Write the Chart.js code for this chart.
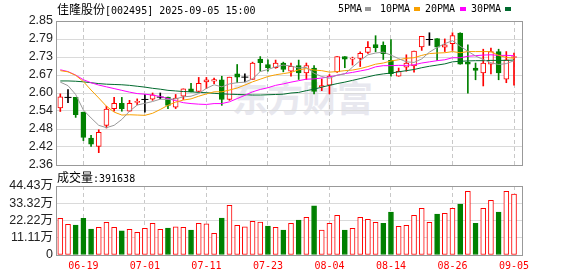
<!DOCTYPE html>
<html><head><meta charset="utf-8">
<script src="https://cdn.jsdelivr.net/npm/chart.js@4.4.1/dist/chart.umd.min.js"></script>
<style>
html,body{margin:0;padding:0;background:#fff;}
#wrap{position:relative;width:578px;height:276px;overflow:hidden;color:#000;}
#wrap canvas{position:absolute;left:0;}
#kc{top:0;} #vc{top:170px;}
.t{position:absolute;white-space:nowrap;line-height:14px;font-size:10px;font-family:"DejaVu Sans Mono",monospace;}
.cj{font-family:"Noto Sans CJK SC",sans-serif;font-size:12px;}
.sw{position:absolute;top:7px;width:6px;height:4px;}
#wm{position:absolute;left:232px;top:70px;font:bold 36px "Noto Sans CJK SC",sans-serif;color:#e8e8ef;letter-spacing:-1px;}
</style></head>
<body><div id="wrap">
<div id="wm">东方财富</div>
<canvas id="kc" width="578" height="180"></canvas>
<canvas id="vc" width="578" height="106"></canvas>
<div class="t" style="left:57px;top:2px"><span class="cj">佳隆股份</span>[002495] 2025-09-05 15:00</div>
<div class="t" style="left:338px;top:2px">5PMA</div><div class="sw" style="left:365px;background:#999"></div>
<div class="t" style="left:380px;top:2px">10PMA</div><div class="sw" style="left:414px;background:#f8a000"></div>
<div class="t" style="left:425px;top:2px">20PMA</div><div class="sw" style="left:460px;background:#ff00ff"></div>
<div class="t" style="left:471px;top:2px">30PMA</div><div class="sw" style="left:505px;background:#006a2e"></div>
<div class="t" style="left:57px;top:170px"><span class="cj">成交量</span>:391638</div>
</div>
<script>
/* ---- data ----------------------------------------------------------- */
const DATE_IDX    = [3, 11, 19, 27, 35, 43, 51, 59];
const DATE_LABELS = ["06-19","07-01","07-11","07-23","08-04","08-14","08-26","09-05"];
const PRICE_TICKS  = [2.36, 2.42125, 2.4825, 2.54375, 2.605, 2.66625, 2.7275, 2.78875, 2.85];
const PRICE_LABELS = ["2.36","2.42","2.48","2.54","2.60","2.67","2.73","2.79","2.85"];
const VOL_TICKS  = [0, 11.1075, 22.215, 33.3225, 44.43];
const VOL_LABELS = ["0","11.11万","22.22万","33.32万","44.43万"];

const OPEN  = [2.554,2.59,2.59,2.54,2.452,2.423,2.495,2.552,2.57,2.543,2.573,2.583,2.584,2.591,2.591,2.557,2.594,2.619,2.61,2.643,
               2.645,2.65,2.583,2.67,2.659,2.651,2.72,2.702,2.691,2.707,2.679,2.698,2.673,2.69,2.626,2.632,2.677,2.729,2.72,2.723,
               2.743,2.77,2.767,2.716,2.662,2.693,2.697,2.762,2.787,2.79,2.761,2.773,2.809,2.709,2.69,2.673,2.703,2.746,2.652,2.726];
const HIGH  = [2.602,2.617,2.59,2.54,2.461,2.48,2.56,2.59,2.59,2.58,2.585,2.60,2.605,2.605,2.591,2.60,2.619,2.638,2.658,2.658,
               2.656,2.662,2.659,2.702,2.67,2.71,2.729,2.718,2.717,2.71,2.707,2.717,2.707,2.698,2.653,2.668,2.729,2.729,2.727,2.745,
               2.78,2.80,2.779,2.787,2.69,2.735,2.748,2.798,2.81,2.79,2.789,2.81,2.81,2.769,2.707,2.754,2.758,2.754,2.746,2.741];
const LOW   = [2.542,2.572,2.522,2.443,2.423,2.402,2.486,2.543,2.543,2.542,2.565,2.54,2.58,2.585,2.552,2.552,2.583,2.609,2.609,2.62,
               2.637,2.563,2.58,2.64,2.643,2.651,2.679,2.679,2.689,2.677,2.662,2.651,2.651,2.602,2.613,2.602,2.675,2.691,2.70,2.695,
               2.74,2.745,2.719,2.662,2.662,2.679,2.676,2.75,2.767,2.716,2.746,2.75,2.703,2.604,2.65,2.629,2.67,2.65,2.64,2.632];
const CLOSE = [2.592,2.59,2.531,2.454,2.431,2.471,2.55,2.57,2.552,2.57,2.577,2.583,2.599,2.591,2.563,2.588,2.619,2.609,2.638,2.65,
               2.651,2.583,2.659,2.659,2.659,2.707,2.708,2.691,2.707,2.685,2.696,2.673,2.698,2.61,2.63,2.663,2.729,2.72,2.724,2.74,
               2.76,2.759,2.739,2.671,2.679,2.707,2.748,2.798,2.787,2.761,2.769,2.80,2.703,2.703,2.682,2.707,2.746,2.673,2.718,2.729];

const MA5  = [2.642,2.63,2.60,2.547,2.520,2.495,2.487,2.495,2.515,2.543,2.564,2.570,2.576,2.584,2.583,2.585,2.592,2.594,2.603,2.621,
              2.633,2.626,2.636,2.640,2.642,2.653,2.678,2.685,2.694,2.700,2.697,2.690,2.692,2.672,2.661,2.655,2.666,2.670,2.693,2.715,
              2.735,2.741,2.744,2.734,2.722,2.711,2.709,2.721,2.744,2.760,2.773,2.783,2.764,2.747,2.731,2.719,2.708,2.702,2.705,2.715];
const MA10 = [2.681,2.677,2.665,2.644,2.615,2.588,2.56,2.54,2.53,2.531,2.530,2.529,2.536,2.549,2.563,2.574,2.581,2.585,2.594,2.602,
              2.609,2.609,2.615,2.622,2.632,2.643,2.652,2.661,2.667,2.671,2.675,2.684,2.688,2.683,2.681,2.676,2.678,2.681,2.683,2.688,
              2.695,2.703,2.707,2.714,2.718,2.723,2.725,2.733,2.739,2.741,2.742,2.746,2.742,2.746,2.746,2.746,2.746,2.733,2.726,2.723];
const MA20 = [2.684,2.678,2.666,2.65,2.64,2.632,2.626,2.62,2.614,2.608,2.603,2.601,2.598,2.593,2.586,2.579,2.572,2.569,2.567,2.566,
              2.569,2.569,2.575,2.586,2.597,2.609,2.617,2.623,2.631,2.636,2.642,2.647,2.652,2.653,2.656,2.660,2.665,2.671,2.675,2.680,
              2.685,2.694,2.698,2.698,2.699,2.699,2.701,2.707,2.711,2.715,2.718,2.725,2.725,2.730,2.732,2.734,2.735,2.733,2.733,2.732];
const MA30 = [2.646,2.646,2.645,2.643,2.64,2.637,2.635,2.634,2.633,2.631,2.628,2.625,2.621,2.618,2.614,2.612,2.61,2.609,2.607,2.606,
              2.604,2.602,2.601,2.6,2.599,2.598,2.598,2.599,2.6,2.601,2.605,2.607,2.613,2.618,2.625,2.631,2.637,2.642,2.648,2.654,
              2.660,2.666,2.670,2.673,2.677,2.681,2.685,2.691,2.696,2.700,2.704,2.711,2.713,2.714,2.715,2.715,2.716,2.716,2.716,2.717];

// volume in 万 (10k); VOL_UP: 1 = red hollow bar, 0 = green bar
const VOL    = [23.6,19.8,19.3,23.6,16.7,17.8,21.1,17.8,15.5,16.5,14.6,17.2,20.4,16.5,17.4,18.2,17.8,16.1,20.4,20.0,
                14.0,23.8,32.0,19.1,18.2,21.7,21.2,18.7,17.8,16.1,20.4,22.5,24.3,31.6,16.1,20.4,25.5,16.1,17.2,24.3,
                23.0,21.1,20.4,27.7,18.5,19.1,25.5,30.0,21.1,26.4,26.8,30.0,32.8,41.0,20.4,30.0,35.2,27.7,41.0,39.16];
const VOL_UP = [1,1,0,0,0,1,1,1,0,1,1,1,1,1,0,1,1,0,1,1, 1,0,1,1,1,1,1,0,1,0,1,0,1,0,1,1,1,0,1,1, 1,1,0,0,1,1,1,1,1,0,1,1,0,1,0,1,1,0,1,1];

/* ---- style ---------------------------------------------------------- */
const RED = "#ff0000", GRN = "#008000", BLK = "#000000";
const XMIN = -0.56, XMAX = 60.04;
const AXIS_FONT = {family:"Liberation Sans, Noto Sans CJK SC", size:12.5};

const IDX = OPEN.map((_, i) => i);
const col = i => CLOSE[i] > OPEN[i] ? RED : (CLOSE[i] < OPEN[i] ? GRN : BLK);

const frame = { id:"frame", afterDraw(c){
  const a = c.chartArea, x = c.ctx;
  x.save(); x.strokeStyle = "#999"; x.lineWidth = 1;
  x.strokeRect(a.left+.5, a.top+.5, a.right-a.left, a.bottom-a.top);
  x.restore();
}};

function xAxis(labels){
  return { type:"linear", min:XMIN, max:XMAX, offset:false,
    afterBuildTicks: s => { s.ticks = DATE_IDX.map(v => ({value:v})); },
    grid:{ color:"#c8c8c8", drawTicks:false, offset:false },
    border:{ display:false, dash:[4,3] },
    ticks:{ display:labels, autoSkip:false, maxRotation:0, padding:5, color:"#ff0000",
      font:{family:"DejaVu Sans Mono", size:10}, callback:(v,i) => DATE_LABELS[i] },
    afterFit: s => { s.height = labels ? 21 : 15; } };
}
function yAxis(min, max, vals, labs){
  return { type:"linear", min, max,
    afterBuildTicks: s => { s.ticks = vals.map(v => ({value:v})); },
    grid:{ color:"#dadada", drawTicks:false },
    border:{ display:false },
    ticks:{ autoSkip:false, padding:3, color:"#222", font:AXIS_FONT, callback:(v,i) => labs[i] },
    afterFit: s => { s.width = 56; } };
}
const base = { responsive:false, animation:false, events:[], devicePixelRatio:1,
  plugins:{ legend:{display:false}, tooltip:{enabled:false} } };

/* ---- K-line panel --------------------------------------------------- */
const line = (data, color) => ({ type:"line", data: IDX.map(i => ({x:i, y:data[i]})),
  borderColor:color, borderWidth:1, pointRadius:0, tension:0, order:0 });
const bodies = IDX.filter(i => OPEN[i] !== CLOSE[i]);
const dojis  = IDX.filter(i => OPEN[i] === CLOSE[i]);

new Chart(document.getElementById("kc"), {
  type:"bar",
  data:{ datasets:[
    line(MA5, "#999999"), line(MA10, "#f8a000"), line(MA20, "#ff00ff"), line(MA30, "#006a2e"),
    { type:"line", data: dojis.map(i => ({x:i, y:OPEN[i]})), showLine:false, order:1,
      pointStyle:"line", pointRadius:3.5, pointBorderColor:BLK, pointBorderWidth:1 },
    { data: bodies.map(i => ({x:i, y:[OPEN[i], CLOSE[i]]})), order:2, grouped:false,
      barThickness:5, borderWidth:1, borderSkipped:false,
      borderColor: bodies.map(col), backgroundColor: bodies.map(i => col(i) === RED ? "#ffffff" : col(i)) },
    { data: IDX.map(i => ({x:i, y:[LOW[i], HIGH[i]]})), order:3, grouped:false,
      barThickness:1, backgroundColor: IDX.map(col) }
  ]},
  options:{ ...base,
    layout:{ padding:{ left:0, right:56, top:21, bottom:0 } },
    scales:{ x: xAxis(false), y: yAxis(2.36, 2.85, PRICE_TICKS, PRICE_LABELS) } },
  plugins:[frame]
});

/* ---- volume panel --------------------------------------------------- */
new Chart(document.getElementById("vc"), {
  type:"bar",
  data:{ datasets:[{
    data: IDX.map(i => ({x:i, y:VOL[i]})), grouped:false, barThickness:5, borderWidth:1, borderSkipped:false,
    borderColor: VOL_UP.map(u => u ? RED : GRN), backgroundColor: VOL_UP.map(u => u ? "#ffffff" : GRN) }]},
  options:{ ...base,
    layout:{ padding:{ left:0, right:56, top:16, bottom:0 } },
    scales:{ x: xAxis(true), y: yAxis(0, 44.43, VOL_TICKS, VOL_LABELS) } },
  plugins:[frame]
});
</script>
</body></html>
